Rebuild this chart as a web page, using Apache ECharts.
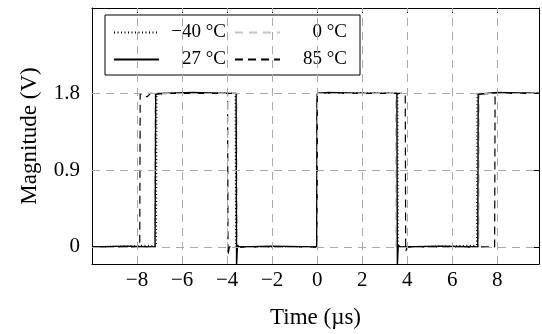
<html>
<head>
    <meta charset="utf-8">
    <title>Magnitude vs time</title>
    <script src="https://cdn.jsdelivr.net/npm/echarts@6/dist/echarts.min.js"></script>
</head>
<body style="margin:0">
<div id="main" style="width:542px;height:334px;"></div>
<script type="text/javascript">
// values: time (us) and magnitude (V)
var names = ['\u221240 °C', '0 °C', '27 °C', '85 °C'];

var tM40 = [-10, -8.5, -7.5, -7.14, -7.12, -6.5, -5, -3.64, -3.62, -3.5, -2, -0.03, 0.01, 1.5, 3.58, 3.6, 3.7, 5.5, 7.08, 7.1, 8.5, 9.85];
var vM40 = [0.0, 0.01, 0.02, 0.01, 1.79, 1.8, 1.81, 1.8, 0.01, 0.0, 0.0, 0.0, 1.8, 1.81, 1.8, 0.01, 0.0, 0.01, 0.02, 1.79, 1.81, 1.8];

var t0 = [-10, -7.22, -7.2, -3.57, -3.55, -0.02, 0, 3.48, 3.5, 7.18, 7.2, 9.85];
var v0 = [0, 0, 1.8, 1.8, 0, 0, 1.8, 1.8, 0, 0, 1.8, 1.8];

var t27 = [-10, -8.5, -7.2, -7.17, -6.8, -5.5, -4.2, -3.6, -3.58, -3.54, -3.45, -2, -0.02, 0, 0.5, 2, 3.54, 3.56, 3.6, 3.7, 5.5, 7.13, 7.15, 8, 9.85];
var v27 = [0, 0.01, 0, 1.79, 1.8, 1.81, 1.8, 1.8, -0.22, 0.02, 0.0, 0.01, 0, 1.8, 1.81, 1.8, 1.8, -0.22, 0.02, 0.0, 0.01, 0, 1.79, 1.81, 1.8];

var t85 = [-10, -7.88, -7.86, -7.7, -7.55, -7.4, -6, -3.98, -3.96, -3.9, -3.8, -2, -0.02, 0, 2, 3.91, 3.93, 4, 6, 7.88, 7.9, 9.85];
var v85 = [0, 0, 1.8, 1.77, 1.76, 1.8, 1.8, 1.8, -0.1, 0.0, 0, 0, 0, 1.8, 1.8, 1.8, -0.05, 0, 0, 0, 1.8, 1.8];

var xGrid = [-8, -6, -4, -2, 0, 2, 4, 6, 8];
var yTicks = [0, 0.9, 1.8];

function zip(t, v) {
    return t.map(function (x, i) { return [x, v[i]]; });
}

var font = 'Liberation Serif';
var myChart = echarts.init(document.getElementById('main'));

var xBase = {
    type: 'value', min: -10, max: 9.85, interval: 2,
    axisLine: { onZero: false, lineStyle: { color: '#000', width: 1 } },
    axisTick: { inside: true, length: 5, lineStyle: { color: '#000' } },
    splitLine: { show: false }
};
var yBase = {
    type: 'value', min: -0.2, max: 2.8,
    axisLine: { onZero: false, lineStyle: { color: '#000', width: 1 } },
    axisTick: { inside: true, length: 5, customValues: yTicks, lineStyle: { color: '#000' } },
    splitLine: { show: false }
};

var option = {
    animation: false,
    grid: { left: 92, right: 2, top: 8, bottom: 70 },
    legend: {
        data: names,
        left: 105, top: 15,
        width: 240,
        padding: [8, 13, 6, 8],
        itemWidth: 45, itemHeight: 19, itemGap: 8,
        backgroundColor: '#fff',
        borderColor: '#000', borderWidth: 1, borderRadius: 0,
        itemStyle: { opacity: 0 },
        formatter: function (n) { return '{r|' + n + '}'; },
        textStyle: {
            fontFamily: font, fontSize: 19, color: '#000',
            rich: { r: { width: 62, align: 'right', fontFamily: font, fontSize: 19, color: '#000' } }
        }
    },
    xAxis: [
        Object.assign({}, xBase, {
            position: 'bottom',
            name: 'Time (\u00b5s)', nameLocation: 'middle', nameGap: 42,
            nameTextStyle: { fontFamily: font, fontSize: 23, color: '#000' },
            axisLabel: {
                margin: 6, fontFamily: font, fontSize: 21, color: '#000',
                formatter: function (v) { return (v <= -10 || v > 8) ? '' : String(v).replace('-', '\u2212'); }
            }
        }),
        Object.assign({}, xBase, { position: 'top', axisLabel: { show: false } })
    ],
    yAxis: [
        Object.assign({}, yBase, {
            position: 'left',
            name: 'Magnitude (V)', nameLocation: 'middle', nameGap: 51,
            nameTextStyle: { fontFamily: font, fontSize: 23, color: '#000' },
            axisLabel: { customValues: yTicks, margin: 12, fontFamily: font, fontSize: 21, color: '#000' }
        }),
        Object.assign({}, yBase, { position: 'right', axisLabel: { show: false } })
    ],
    series: [
        {
            type: 'line', data: [], z: 1, silent: true,
            markLine: {
                silent: true, symbol: 'none', animation: false,
                label: { show: false },
                lineStyle: { color: '#aaa', type: [8, 6], width: 1 },
                data: xGrid.map(function (v) { return { xAxis: v }; })
                    .concat(yTicks.map(function (v) { return { yAxis: v }; }))
            }
        },
        { name: names[0], type: 'line', symbol: 'none', data: zip(tM40, vM40),
          itemStyle: { color: '#000' },
          lineStyle: { color: '#000', width: 1.2, type: [1, 2.5] } },
        { name: names[1], type: 'line', symbol: 'none', data: zip(t0, v0),
          itemStyle: { color: '#c4c4c4' },
          lineStyle: { color: '#c4c4c4', width: 1.2, type: [8, 6] } },
        { name: names[2], type: 'line', symbol: 'none', data: zip(t27, v27),
          itemStyle: { color: '#000' },
          lineStyle: { color: '#000', width: 1.4 } },
        { name: names[3], type: 'line', symbol: 'none', data: zip(t85, v85),
          itemStyle: { color: '#000' },
          lineStyle: { color: '#000', width: 1.2, type: [8, 5] } }
    ]
};
myChart.setOption(option);
</script>
</body>
</html>
